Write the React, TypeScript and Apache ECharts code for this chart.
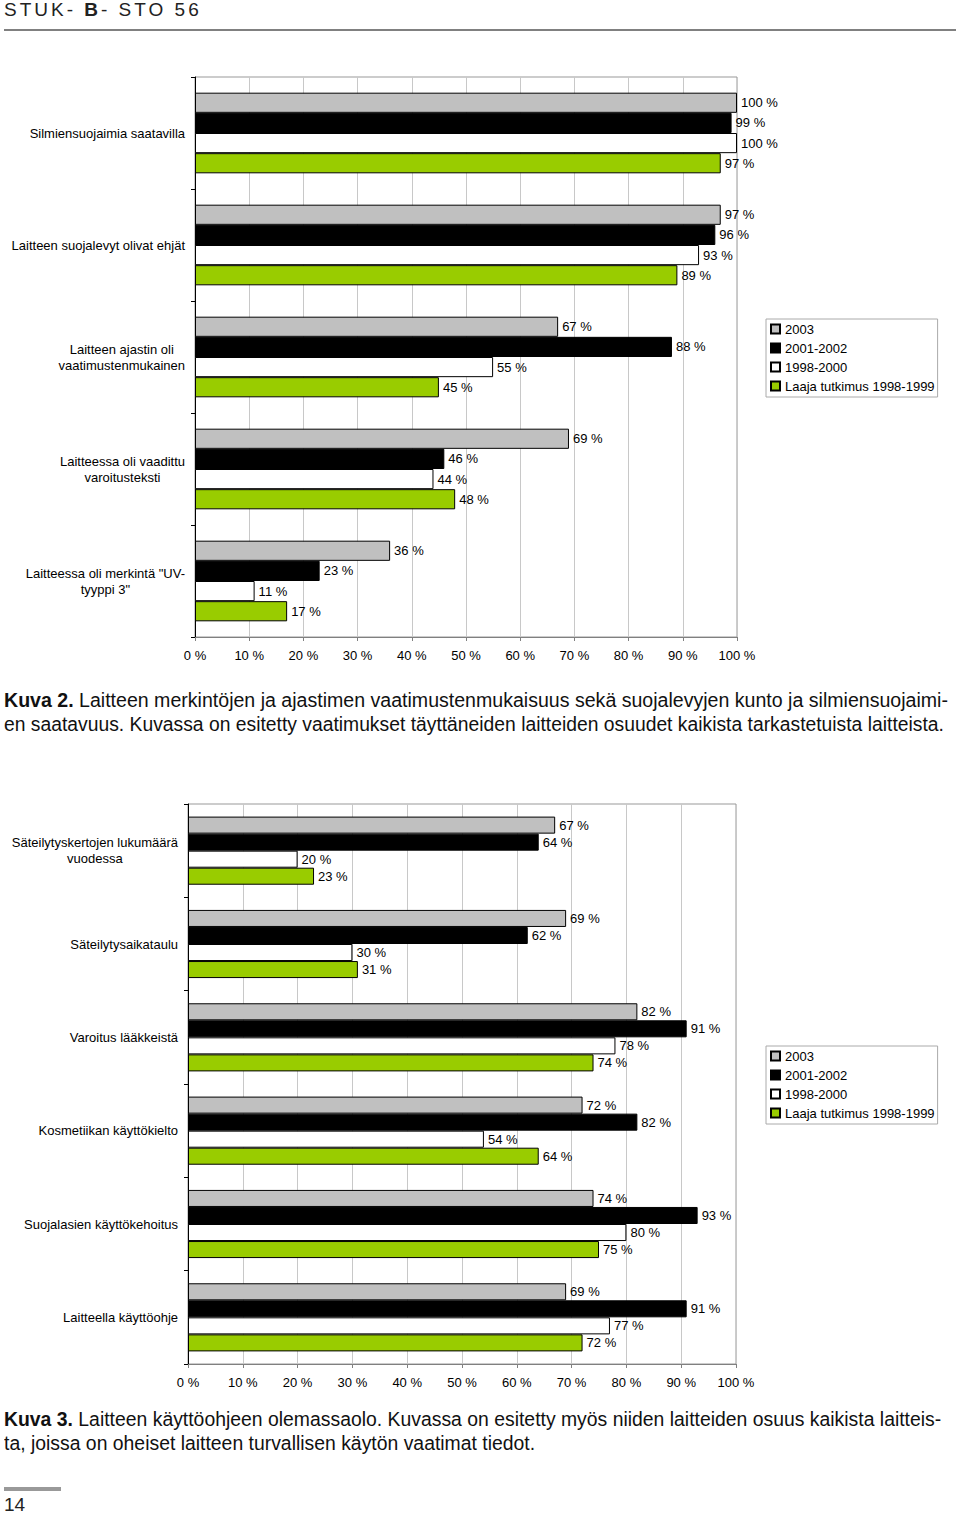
import React, { useEffect, useRef } from "react";
import * as echarts from "echarts";

// ---------- data ----------
const seriesNames = ["2003", "2001-2002", "1998-2000", "Laaja tutkimus 1998-1999"];
const seriesColors = ["#c0c0c0", "#000000", "#ffffff", "#99cc00"];

const categoriesFig2 = [
  "Silmiensuojaimia saatavilla",
  "Laitteen suojalevyt olivat ehjät",
  "Laitteen ajastin oli\nvaatimustenmukainen",
  "Laitteessa oli vaadittu\nvaroitusteksti",
  'Laitteessa oli merkintä "UV-\ntyyppi 3"',
];
const fig2Y2003 = [100, 97, 67, 69, 36];
const fig2Y2001_2002 = [99, 96, 88, 46, 23];
const fig2Y1998_2000 = [100, 93, 55, 44, 11];
const fig2Laaja = [97, 89, 45, 48, 17];

const categoriesFig3 = [
  "Säteilytyskertojen lukumäärä\nvuodessa",
  "Säteilytysaikataulu",
  "Varoitus lääkkeistä",
  "Kosmetiikan käyttökielto",
  "Suojalasien käyttökehoitus",
  "Laitteella käyttöohje",
];
const fig3Y2003 = [67, 69, 82, 72, 74, 69];
const fig3Y2001_2002 = [64, 62, 91, 82, 93, 91];
const fig3Y1998_2000 = [20, 30, 78, 54, 80, 77];
const fig3Laaja = [23, 31, 74, 64, 75, 72];

const xMin = 0;
const xMax = 100;
const xInterval = 10;

const headerText = ["STUK- ", "B", "- STO 56"];
const caption2 = [
  "Laitteen merkintöjen ja ajastimen vaatimustenmukaisuus sekä suojalevyjen kunto ja silmiensuojaimi-",
  "en saatavuus. Kuvassa on esitetty vaatimukset täyttäneiden laitteiden osuudet kaikista tarkastetuista laitteista.",
];
const caption3 = [
  "Laitteen käyttöohjeen olemassaolo. Kuvassa on esitetty myös niiden laitteiden osuus kaikista laitteis-",
  "ta, joissa on oheiset laitteen turvallisen käytön vaatimat tiedot.",
];
const pageNumber = "14";

// ---------- styles ----------
const FONT = "'Liberation Sans', Arial, sans-serif";

function buildAxes(idx: number, cats: string[]) {
  const xAxis = {
    type: "value",
    gridIndex: idx,
    min: xMin,
    max: xMax,
    interval: xInterval,
    axisLine: { show: true, lineStyle: { color: "#808080", width: 1 } },
    axisTick: { show: true, length: 4, lineStyle: { color: "#808080" } },
    axisLabel: {
      formatter: "{value} %",
      fontSize: 13,
      color: "#000",
      fontFamily: FONT,
      margin: 12,
    },
    splitLine: { show: true, lineStyle: { color: "#c8c8c8", width: 1 } },
  };
  const yAxis = {
    type: "category",
    gridIndex: idx,
    data: cats,
    inverse: true,
    axisLine: { show: true, lineStyle: { color: "#000", width: 1 } },
    axisTick: { show: true, length: 4, lineStyle: { color: "#000" } },
    axisLabel: {
      margin: 10,
      color: "#000",
      fontSize: 13,
      fontFamily: FONT,
      formatter: (v: string) =>
        v
          .split("\n")
          .map((l) => "{c|" + l + "}")
          .join("\n"),
      rich: {
        c: { align: "center", fontSize: 13, lineHeight: 16, fontFamily: FONT, color: "#000" },
      },
    },
    splitLine: { show: false },
  };
  return { xAxis, yAxis };
}

function buildSeries(idx: number, values: number[][], gap: string) {
  return values.map((data, i) => ({
    type: "bar",
    name: seriesNames[i],
    xAxisIndex: idx,
    yAxisIndex: idx,
    data,
    barGap: "0%",
    barCategoryGap: gap,
    silent: true,
    itemStyle: { color: seriesColors[i], borderColor: "#000", borderWidth: 1 },
    label: {
      show: true,
      position: "right",
      distance: 4,
      formatter: "{c} %",
      fontSize: 13,
      color: "#000",
      fontFamily: FONT,
    },
    emphasis: { disabled: true },
  }));
}

function buildLegend(top: number) {
  return {
    orient: "vertical",
    left: 766,
    top,
    data: seriesNames,
    icon: "rect",
    itemWidth: 9,
    itemHeight: 9,
    itemGap: 5,
    padding: [3, 3, 4, 4],
    borderColor: "#aaaaaa",
    borderWidth: 1,
    backgroundColor: "#fff",
    selectedMode: false,
    textStyle: { fontSize: 13, color: "#000", fontFamily: FONT, lineHeight: 14 },
  };
}

export default function App() {
  const ref = useRef<HTMLDivElement>(null);
  const capRefs = useRef<(HTMLSpanElement | null)[]>([]);

  useEffect(() => {
    document.body.style.margin = "0";
    if (!ref.current) return;
    const chart = echarts.init(ref.current, null, { renderer: "svg" });
    const a1 = buildAxes(0, categoriesFig2);
    const a2 = buildAxes(1, categoriesFig3);
    chart.setOption({
      animation: false,
      textStyle: { fontFamily: FONT },
      grid: [
        { left: 195, right: 223, top: 77, bottom: 879, show: true, borderColor: "#999", borderWidth: 1 },
        { left: 188, right: 224, top: 804, bottom: 152, show: true, borderColor: "#999", borderWidth: 1 },
      ],
      xAxis: [a1.xAxis, a2.xAxis],
      yAxis: [a1.yAxis, a2.yAxis],
      legend: [buildLegend(319), buildLegend(1046)],
      series: [
        ...buildSeries(0, [fig2Y2003, fig2Y2001_2002, fig2Y1998_2000, fig2Laaja], "28%"),
        ...buildSeries(1, [fig3Y2003, fig3Y2001_2002, fig3Y1998_2000, fig3Laaja], "27%"),
      ],
    });

    // fit caption lines to the widths of the printed page
    const targets = [944, 940, 937];
    const fit = () => {
      const els = capRefs.current;
      let lastScale = 1;
      for (let i = 0; i < els.length; i++) {
        const el = els[i];
        if (!el) continue;
        const w = el.offsetWidth;
        if (!w) continue;
        const s = i < targets.length ? targets[i] / w : lastScale;
        lastScale = s;
        el.style.transform = "scaleX(" + s + ")";
      }
    };
    fit();
    const fonts = (document as any).fonts;
    if (fonts && fonts.ready) fonts.ready.then(fit);

    return () => chart.dispose();
  }, []);

  const lineStyle: React.CSSProperties = {
    display: "inline-block",
    whiteSpace: "nowrap",
    transformOrigin: "0 0",
  };
  const capBox = (top: number): React.CSSProperties => ({
    position: "absolute",
    left: 4,
    top,
    width: 960,
    fontFamily: FONT,
    fontSize: 20,
    lineHeight: "24px",
    color: "#111",
  });

  return (
    <div style={{ position: "relative", width: 960, height: 1516, background: "#fff", overflow: "hidden" }}>
      <div ref={ref} style={{ position: "absolute", left: 0, top: 0, width: 960, height: 1516 }} />
      <div
        style={{
          position: "absolute",
          left: 4,
          top: 0,
          fontFamily: FONT,
          fontSize: 19,
          lineHeight: "20px",
          letterSpacing: 3,
          color: "#222",
          whiteSpace: "pre",
        }}
      >
        {headerText[0]}
        <b>{headerText[1]}</b>
        {headerText[2]}
      </div>
      <div style={{ position: "absolute", left: 4, top: 29, width: 952, height: 2, background: "#808080" }} />

      <div style={capBox(688)}>
        <div>
          <span ref={(e) => (capRefs.current[0] = e)} style={lineStyle}>
            <b>Kuva 2.</b> {caption2[0]}
          </span>
        </div>
        <div>
          <span ref={(e) => (capRefs.current[1] = e)} style={lineStyle}>
            {caption2[1]}
          </span>
        </div>
      </div>

      <div style={capBox(1407)}>
        <div>
          <span ref={(e) => (capRefs.current[2] = e)} style={lineStyle}>
            <b>Kuva 3.</b> {caption3[0]}
          </span>
        </div>
        <div>
          <span ref={(e) => (capRefs.current[3] = e)} style={lineStyle}>
            {caption3[1]}
          </span>
        </div>
      </div>

      <div style={{ position: "absolute", left: 4, top: 1487, width: 57, height: 4, background: "#999" }} />
      <div
        style={{
          position: "absolute",
          left: 4,
          top: 1495,
          fontFamily: FONT,
          fontSize: 19,
          lineHeight: "19px",
          color: "#222",
        }}
      >
        {pageNumber}
      </div>
    </div>
  );
}
